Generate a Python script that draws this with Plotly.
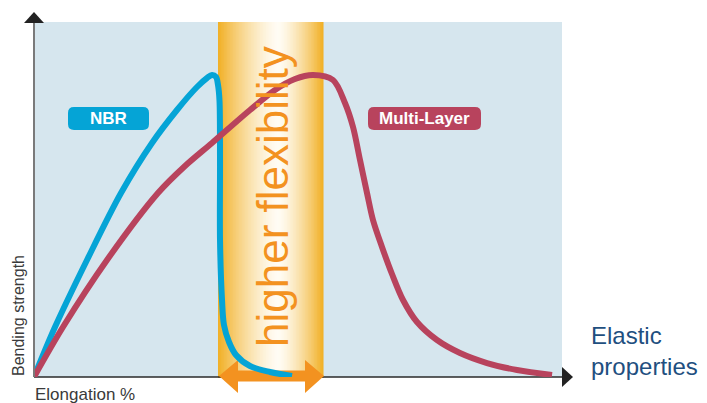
import plotly.graph_objects as go

# ---- data (x: elongation scale 0-100, y: bending strength 0-100) ----
nbr_x = [0, 3.98, 10.04, 16.48, 22.35, 27.08, 30.87, 32.77, 33.71, 34.47, 34.85, 35.13, 35.23, 35.23, 35.61, 35.98, 36.93, 38.26, 40.91, 44.70, 48.86]
nbr_y = [0, 14.08, 32.96, 51.83, 65.92, 75.21, 81.69, 84.23, 85.07, 84.51, 82.25, 77.89, 61.13, 38.59, 21.69, 14.65, 9.86, 6.20, 3.10, 1.41, 0.28]

ml_x = [0, 5.49, 13.83, 23.48, 28.60, 33.71, 40.91, 45.64, 49.43, 52.84, 56.63, 58.90, 60.42, 61.74, 63.07, 64.20, 65.91, 67.80, 69.89, 72.54, 76.33, 80.68, 85.80, 91.48, 98.11]
ml_y = [0, 14.08, 32.96, 51.83, 59.44, 65.92, 75.21, 80.85, 83.94, 85.07, 83.66, 77.18, 70.42, 61.13, 51.83, 44.23, 36.62, 29.01, 21.69, 15.49, 10.42, 6.76, 3.94, 1.97, 0.56]

series_names = ["NBR", "Multi-Layer"]
series_colors = ["#05a4d6", "#b8435d"]

band_label = "higher flexibility"
x_label = "Elongation %"
y_label = "Bending strength"
right_label = "Elastic<br>properties"

# ---- layout geometry (screen pixels; page body has an 8px margin) ----
OFF = 8
W, H = 707 - OFF, 403 - OFF
PX0, PX1, PY0, PY1 = 34, 562, 22, 377          # plot area on screen
L, T = PX0 - OFF, PY0 - OFF
PW, PH = PX1 - PX0, PY1 - PY0
R, B = W - L - PW, H - T - PH


def px(x):
    return (x - PX0) / PW


def py(y):
    return (PY1 - y) / PH


fig = go.Figure()

for xs, ys, name, col in [(nbr_x, nbr_y, series_names[0], series_colors[0]),
                          (ml_x, ml_y, series_names[1], series_colors[1])]:
    fig.add_trace(go.Scatter(x=xs, y=ys, mode="lines", name=name,
                             line=dict(color=col, width=6, shape="spline", smoothing=0.9),
                             hoverinfo="skip"))

shapes = []

# orange gradient band
bx0, bx1, bc = 218, 323, 278
edge = (241, 175, 36)
white = (255, 252, 244)
n = 70
for i in range(n):
    a = bx0 + (bx1 - bx0) * i / n
    b = bx0 + (bx1 - bx0) * (i + 1) / n
    m = (a + b) / 2
    half = (bc - bx0) if m < bc else (bx1 - bc)
    t = min(1.0, abs(m - bc) / half) ** 1.4
    c = tuple(int(round(white[k] + (edge[k] - white[k]) * t)) for k in range(3))
    shapes.append(dict(type="rect", xref="paper", yref="paper", x0=px(a), x1=px(b) + 0.001,
                       y0=py(378), y1=py(22), fillcolor="rgb(%d,%d,%d)" % c,
                       line=dict(width=0), layer="below"))

# axes
shapes.append(dict(type="line", xref="paper", yref="paper", x0=px(34), x1=px(34), y0=py(377), y1=py(22),
                   line=dict(color="#7a7a7a", width=2), layer="above"))
shapes.append(dict(type="line", xref="paper", yref="paper", x0=px(34), x1=px(563), y0=py(377), y1=py(377),
                   line=dict(color="#2a2a2a", width=1.5), layer="below"))


def tri(p):
    return "M " + " L ".join("%f,%f" % (px(a), py(b)) for a, b in p) + " Z"


shapes.append(dict(type="path", xref="paper", yref="paper", path=tri([(34, 12), (24, 23), (44, 23)]),
                   fillcolor="#222", line=dict(width=0)))
shapes.append(dict(type="path", xref="paper", yref="paper", path=tri([(573, 377), (562, 367), (562, 387)]),
                   fillcolor="#222", line=dict(width=0)))

# orange double arrow
orange = "#f39220"
shapes.append(dict(type="line", xref="paper", yref="paper", x0=px(236), x1=px(307), y0=py(376), y1=py(376),
                   line=dict(color=orange, width=11), layer="below"))
shapes.append(dict(type="path", xref="paper", yref="paper", path=tri([(219, 376), (238, 360), (238, 393)]),
                   fillcolor=orange, line=dict(width=0), layer="below"))
shapes.append(dict(type="path", xref="paper", yref="paper", path=tri([(324, 376), (305, 360), (305, 393)]),
                   fillcolor=orange, line=dict(width=0), layer="below"))


def rrect(x0, y0, x1, y1, r=6):
    pts = [
        "M %f,%f" % (px(x0 + r), py(y0)),
        "L %f,%f" % (px(x1 - r), py(y0)),
        "Q %f,%f %f,%f" % (px(x1), py(y0), px(x1), py(y0 + r)),
        "L %f,%f" % (px(x1), py(y1 - r)),
        "Q %f,%f %f,%f" % (px(x1), py(y1), px(x1 - r), py(y1)),
        "L %f,%f" % (px(x0 + r), py(y1)),
        "Q %f,%f %f,%f" % (px(x0), py(y1), px(x0), py(y1 - r)),
        "L %f,%f" % (px(x0), py(y0 + r)),
        "Q %f,%f %f,%f" % (px(x0), py(y0), px(x0 + r), py(y0)),
        "Z",
    ]
    return " ".join(pts)


boxes = [(68, 107, 149, 130), (368, 107, 481, 130)]
for (x0, y0, x1, y1), col in zip(boxes, series_colors):
    shapes.append(dict(type="path", xref="paper", yref="paper", path=rrect(x0, y0, x1, y1),
                       fillcolor=col, line=dict(width=0)))

annotations = []
for (x0, y0, x1, y1), name in zip(boxes, series_names):
    annotations.append(dict(xref="paper", yref="paper", x=px((x0 + x1) / 2), y=py((y0 + y1) / 2 + 0.5),
                            text="<b>%s</b>" % name, showarrow=False,
                            font=dict(family="Liberation Sans, Arial", size=17, color="white"),
                            xanchor="center", yanchor="middle"))

annotations.append(dict(xref="paper", yref="paper", x=px(272), y=py(197), text=band_label, textangle=-90,
                        showarrow=False, font=dict(family="Liberation Sans, Arial", size=44, color=orange),
                        xanchor="center", yanchor="middle"))
annotations.append(dict(xref="paper", yref="paper", x=px(33), y=py(394), text=x_label, showarrow=False,
                        font=dict(family="Liberation Sans, Arial", size=17, color="#3a3a3a"),
                        xanchor="left", yanchor="middle"))
annotations.append(dict(xref="paper", yref="paper", x=px(18), y=py(316), text=y_label, textangle=-90,
                        showarrow=False, font=dict(family="Liberation Sans, Arial", size=16, color="#3a3a3a"),
                        xanchor="center", yanchor="middle"))
annotations.append(dict(xref="paper", yref="paper", x=px(589), y=py(351), text=right_label, showarrow=False,
                        align="left", font=dict(family="Liberation Sans, Arial", size=24, color="#1f4f80"),
                        xanchor="left", yanchor="middle"))

fig.update_layout(
    width=W, height=H,
    margin=dict(l=L, r=R, t=T, b=B, pad=0),
    paper_bgcolor="white", plot_bgcolor="#d6e6ee",
    showlegend=False,
    xaxis=dict(range=[0, 100], visible=False, fixedrange=True),
    yaxis=dict(range=[0, 100], visible=False, fixedrange=True),
    shapes=shapes, annotations=annotations,
)

fig.write_html("out.html")
